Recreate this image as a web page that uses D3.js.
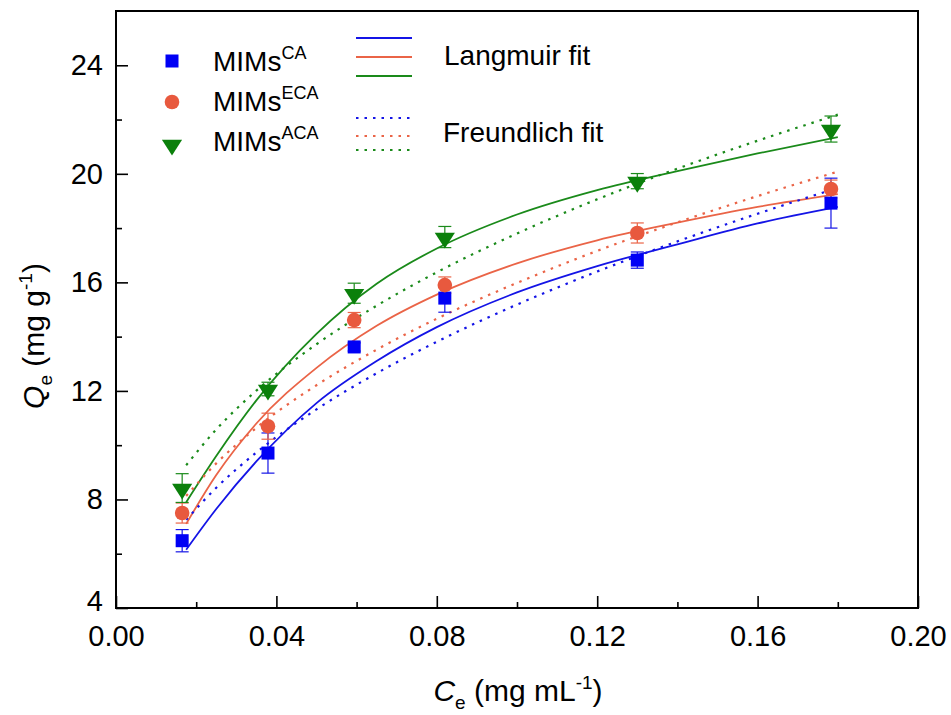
<!DOCTYPE html>
<html>
<head>
<meta charset="utf-8">
<script src="https://cdn.jsdelivr.net/npm/d3@7"></script>
<style>
  html, body { margin: 0; padding: 0; background: #fff; }
  svg { display: block; font-family: "Liberation Sans", Arial, Helvetica, sans-serif; }
</style>
</head>
<body>
<svg id="chart" width="951" height="715"></svg>
<script>
// ---------------- data ----------------
const ceValues = [0.0165, 0.0379, 0.0594, 0.0820, 0.1300, 0.1783];
const qCA  = [6.48, 9.71, 13.62, 15.42, 16.82, 18.92];
const errCA  = [0.41, 0.74, 0.15, 0.52, 0.30, 0.92];
const qECA = [7.50, 10.70, 14.61, 15.90, 17.82, 19.44];
const errECA = [0.37, 0.48, 0.28, 0.30, 0.37, 0.33];
const qACA = [8.42, 12.07, 15.60, 17.67, 19.73, 21.65];
const errACA = [0.53, 0.25, 0.37, 0.39, 0.28, 0.48];

// fitted curves
const fitCe   = [0.0175, 0.025, 0.035, 0.05, 0.065, 0.08, 0.10, 0.12, 0.14, 0.16, 0.18];
const langCA  = [6.15, 7.65, 9.40, 11.55, 13.10, 14.35, 15.63, 16.60, 17.40, 18.17, 18.78];
const langECA = [7.10, 8.90, 10.80, 12.85, 14.40, 15.55, 16.70, 17.55, 18.20, 18.78, 19.25];
const langACA = [7.90, 9.60, 11.65, 14.10, 15.95, 17.25, 18.50, 19.40, 20.10, 20.75, 21.35];
const freuCA  = [7.25, 8.43, 9.73, 11.32, 12.65, 13.81, 15.18, 16.40, 17.51, 18.53, 19.48];
const freuECA = [8.13, 9.33, 10.64, 12.21, 13.52, 14.66, 15.98, 17.16, 18.21, 19.18, 20.08];
const freuACA = [9.26, 10.58, 12.01, 13.72, 15.14, 16.37, 17.80, 19.06, 20.19, 21.22, 22.18];

const xTicks = [0.00, 0.04, 0.08, 0.12, 0.16, 0.20];
const xMinor = [0.02, 0.06, 0.10, 0.14, 0.18];
const yTicks = [4, 8, 12, 16, 20, 24];
const yMinor = [6, 10, 14, 18, 22];
const seriesNames = ["CA", "ECA", "ACA"];

// ---------------- layout ----------------
const svg = d3.select("#chart");
const L = 116, R = 918, T = 11, B = 608;
const x = d3.scaleLinear().domain([0, 0.2]).range([L, R]);
const y = d3.scaleLinear().domain([4, 26]).range([B, T]);

const colors = { CA: "#0000F5", ECA: "#E8593E", ACA: "#0B800B" };
const lineColors = { CA: "#1414E6", ECA: "#EA6447", ACA: "#1A8A1A" };

svg.append("rect").attr("width", 951).attr("height", 715).attr("fill", "#fff");

// axes
const gx = svg.append("g").attr("transform", `translate(0,${B})`)
  .call(d3.axisBottom(x).tickValues(xTicks).tickFormat(d3.format(".2f"))
        .tickSizeInner(-12).tickSizeOuter(0).tickPadding(17));
const gxm = svg.append("g").attr("transform", `translate(0,${B})`)
  .call(d3.axisBottom(x).tickValues(xMinor).tickFormat("").tickSizeInner(-6).tickSizeOuter(0));
const gy = svg.append("g").attr("transform", `translate(${L},0)`)
  .call(d3.axisLeft(y).tickValues(yTicks).tickFormat(d3.format("d"))
        .tickSizeInner(-12).tickSizeOuter(0).tickPadding(13));
const gym = svg.append("g").attr("transform", `translate(${L},0)`)
  .call(d3.axisLeft(y).tickValues(yMinor).tickFormat("").tickSizeInner(-6).tickSizeOuter(0));
[gx, gxm, gy, gym].forEach(g => {
  g.select(".domain").remove();
  g.selectAll("line").attr("stroke", "#000").attr("stroke-width", 1.6);
  g.selectAll("text").attr("fill", "#000").attr("font-size", 29)
    .attr("font-family", '"Liberation Sans", Arial, sans-serif');
});
// keep the lowest y label clear of the "0.00" label below it
gy.selectAll(".tick").filter(d => d === 4).select("text").attr("dy", "0.1em");

// frame
svg.append("rect").attr("x", L).attr("y", T).attr("width", R - L).attr("height", B - T)
  .attr("fill", "none").attr("stroke", "#000").attr("stroke-width", 2);

// fit curves
const lineGen = d3.line().x(d => x(d[0])).y(d => y(d[1])).curve(d3.curveMonotoneX);
const fits = [
  ["CA", langCA, false], ["ECA", langECA, false], ["ACA", langACA, false],
  ["CA", freuCA, true], ["ECA", freuECA, true], ["ACA", freuACA, true]
];
fits.forEach(([name, vals, dotted]) => {
  svg.append("path")
    .attr("d", lineGen(fitCe.map((c, i) => [c, vals[i]])))
    .attr("fill", "none")
    .attr("stroke", lineColors[name])
    .attr("stroke-width", dotted ? 2.2 : 1.8)
    .attr("stroke-dasharray", dotted ? "2.5,6" : null);
});

// markers and error bars
const sets = [["CA", qCA, errCA], ["ECA", qECA, errECA], ["ACA", qACA, errACA]];
const tri = d3.symbol().type(d3.symbolTriangle).size(160);
function drawMarker(g, name, cx, cy) {
  if (name === "CA") {
    g.append("rect").attr("x", cx - 6.5).attr("y", cy - 6.5).attr("width", 13).attr("height", 13)
      .attr("fill", colors.CA);
  } else if (name === "ECA") {
    g.append("circle").attr("cx", cx).attr("cy", cy).attr("r", 7.3).attr("fill", colors.ECA);
  } else {
    g.append("path").attr("d", tri())
      .attr("transform", `translate(${cx},${cy + 1}) rotate(180) scale(1.05,0.95)`)
      .attr("fill", colors.ACA);
  }
}
sets.forEach(([name, vals, errs]) => {
  const g = svg.append("g");
  vals.forEach((v, i) => {
    const cx = x(ceValues[i]);
    const y1 = y(v + errs[i]), y2 = y(v - errs[i]);
    g.append("line").attr("x1", cx).attr("x2", cx).attr("y1", y1).attr("y2", y2)
      .attr("stroke", lineColors[name]).attr("stroke-width", 1.2);
    [y1, y2].forEach(yy => g.append("line").attr("x1", cx - 6.5).attr("x2", cx + 6.5)
      .attr("y1", yy).attr("y2", yy).attr("stroke", lineColors[name]).attr("stroke-width", 1.2));
  });
});
sets.forEach(([name, vals]) => {
  const g = svg.append("g");
  vals.forEach((v, i) => drawMarker(g, name, x(ceValues[i]), y(v)));
});

// legend: markers
const legMarkY = { CA: 61, ECA: 102, ACA: 144 };
const legTextY = { CA: 71, ECA: 111, ACA: 151 };
seriesNames.forEach(name => {
  drawMarker(svg, name, 172, legMarkY[name]);
  const t = svg.append("text").attr("x", 213).attr("y", legTextY[name])
    .attr("font-size", 28).attr("fill", "#000");
  t.append("tspan").text("MIMs");
  t.append("tspan").attr("font-size", 18).attr("dy", -12).text(name);
});
// legend: lines
const legSolidY = { CA: 38, ECA: 57, ACA: 76 };
const legDotY = { CA: 118, ECA: 136, ACA: 150 };
seriesNames.forEach(name => {
  svg.append("line").attr("x1", 356).attr("x2", 412).attr("y1", legSolidY[name]).attr("y2", legSolidY[name])
    .attr("stroke", lineColors[name]).attr("stroke-width", 1.8);
  svg.append("line").attr("x1", 356).attr("x2", 412).attr("y1", legDotY[name]).attr("y2", legDotY[name])
    .attr("stroke", lineColors[name]).attr("stroke-width", 2.2).attr("stroke-dasharray", "2.5,6");
});
svg.append("text").attr("x", 444).attr("y", 65).attr("font-size", 28).attr("fill", "#000").text("Langmuir fit");
svg.append("text").attr("x", 443).attr("y", 142).attr("font-size", 28).attr("fill", "#000").text("Freundlich fit");

// axis titles
const xt = svg.append("text").attr("x", 518).attr("y", 701).attr("text-anchor", "middle")
  .attr("font-size", 30).attr("fill", "#000");
xt.append("tspan").attr("font-style", "italic").text("C");
xt.append("tspan").attr("font-size", 19).attr("dy", 8).text("e");
xt.append("tspan").attr("dy", -8).text(" (mg mL");
xt.append("tspan").attr("font-size", 19).attr("dy", -12).text("-1");
xt.append("tspan").attr("dy", 12).text(")");

const yt = svg.append("text").attr("transform", "translate(44,336) rotate(-90)")
  .attr("text-anchor", "middle").attr("font-size", 30).attr("fill", "#000");
yt.append("tspan").attr("font-style", "italic").text("Q");
yt.append("tspan").attr("font-size", 19).attr("dy", 8).text("e");
yt.append("tspan").attr("dy", -8).text(" (mg g");
yt.append("tspan").attr("font-size", 19).attr("dy", -12).text("-1");
yt.append("tspan").attr("dy", 12).text(")");
</script>
</body>
</html>
